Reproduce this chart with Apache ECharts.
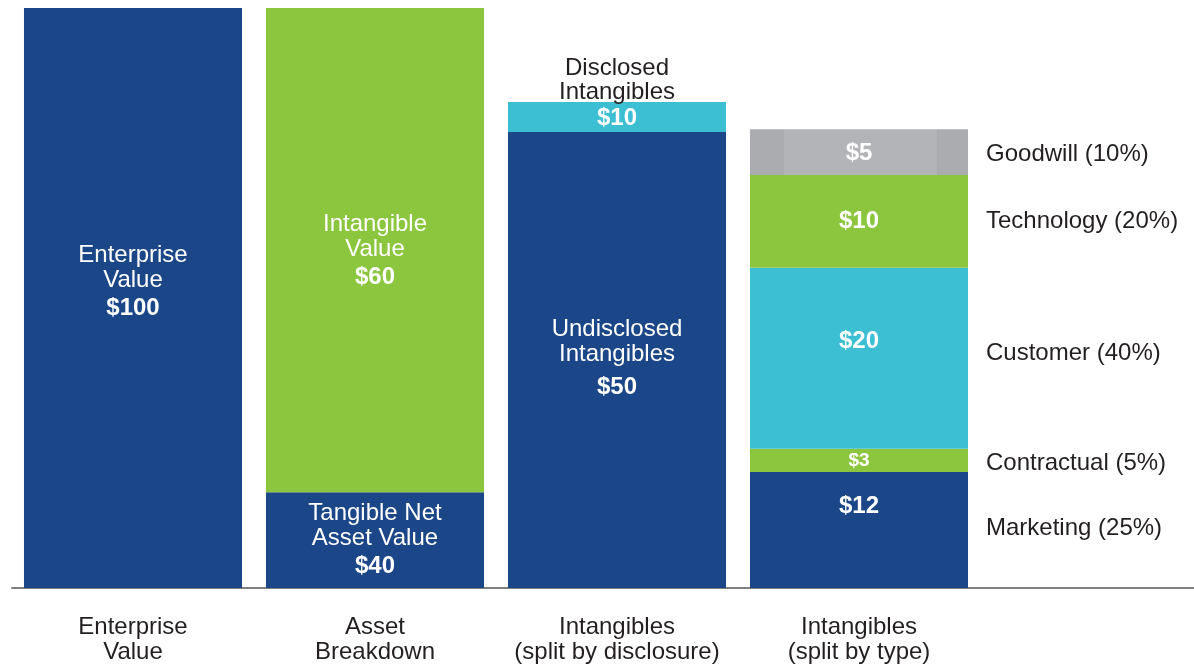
<!DOCTYPE html>
<html>
<head>
<meta charset="utf-8">
<script src="https://cdn.jsdelivr.net/npm/echarts@6/dist/echarts.min.js"></script>
<style>
  html, body { margin: 0; padding: 0; background: #fff; }
  #chart { width: 1194px; height: 666px; }
</style>
</head>
<body>
<div id="chart"></div>
<script>
// columns along the bottom
const categories = ['Enterprise\nValue', 'Asset\nBreakdown', 'Intangibles\n(split by disclosure)', 'Intangibles\n(split by type)'];

// one entry per stacked block, bottom to top within each column
const segNames = ['Enterprise Value', 'Tangible Net Asset Value', 'Intangible Value', 'Undisclosed Intangibles', 'Disclosed Intangibles',
    'Marketing', 'Contractual', 'Customer', 'Technology', 'Goodwill'];
const segColumn = [0, 1, 1, 2, 2, 3, 3, 3, 3, 3];
// drawn heights (the artwork is not to scale with the $ labels)
const segHeights = [100, 16.5, 83.5, 78.6, 5.2, 20, 4, 31.2, 16, 7.9];
const segAmounts = ['$100', '$40', '$60', '$50', '$10', '$12', '$3', '$20', '$10', '$5'];
const segCaptions = ['Enterprise\nValue', 'Tangible Net\nAsset Value', 'Intangible\nValue', 'Undisclosed\nIntangibles', '', '', '', '', '', ''];

// side notes
const disclosedNote = 'Disclosed\nIntangibles';
const typeShares = ['Marketing (25%)', 'Contractual (5%)', 'Customer (40%)', 'Technology (20%)', 'Goodwill (10%)'];

// styling
const NAVY = '#1b4688', GREEN = '#8cc63f', CYAN = '#3dbfd3';
const GREY = {
    type: 'linear', x: 0, y: 0, x2: 1, y2: 0,
    colorStops: [
        { offset: 0, color: '#abacb0' }, { offset: 0.157, color: '#abacb0' },
        { offset: 0.157, color: '#b3b4b8' }, { offset: 0.857, color: '#b3b4b8' },
        { offset: 0.857, color: '#abacb0' }, { offset: 1, color: '#abacb0' }
    ]
};
const segColors = [NAVY, NAVY, GREEN, NAVY, CYAN, NAVY, GREEN, CYAN, GREEN, GREY];
const labelOffsets = [[0, -15], [0, 1], [0, 2], [0, 2], [0, 1], [0, -24], [0, 0], [0, -17], [0, 0], [0, 1]];
const FONT = "'Liberation Sans', Arial, Helvetica, sans-serif";
const TEXT = '#231f20';
const FS = 24;

function columnData(col, v) {
    return categories.map((c, i) => (i === col ? v : '-'));
}

const series = [];

segNames.forEach((name, i) => {
    const cap = segCaptions[i];
    const amt = segAmounts[i];
    let fmt = cap ? cap.split('\n').map(l => '{c|' + l + '}').join('\n') + '\n' : '';
    fmt += (name === 'Contractual' ? '{s|' : (name === 'Undisclosed Intangibles' ? '{w|' : '{v|')) + amt + '}';
    series.push({
        name: name,
        type: 'bar',
        stack: 'main',
        barCategoryGap: '9.9%',
        data: columnData(segColumn[i], segHeights[i]),
        itemStyle: { color: segColors[i] },
        label: {
            show: true,
            position: 'inside',
            offset: labelOffsets[i],
            formatter: fmt,
            color: '#fff',
            fontFamily: FONT,
            rich: {
                c: { fontSize: FS, lineHeight: 25, color: '#fff', fontFamily: FONT },
                v: { fontSize: FS, lineHeight: 31, fontWeight: 'bold', color: '#fff', fontFamily: FONT },
                w: { fontSize: FS, lineHeight: 41, fontWeight: 'bold', color: '#fff', fontFamily: FONT },
                s: { fontSize: 19, lineHeight: 20, fontWeight: 'bold', color: '#fff', fontFamily: FONT }
            }
        },
        silent: true
    });
});

// invisible twin stack on a hidden axis, carries the outside notes
const noteOffsets = { 'Marketing': [0, -2], 'Contractual': [0, 3], 'Customer': [0, -5], 'Technology': [0, 0], 'Goodwill': [0, 2] };
segNames.forEach((name, i) => {
    const col = segColumn[i];
    if (col < 2) return;
    let label = { show: false };
    if (name === 'Disclosed Intangibles') {
        label = { show: true, position: 'top', distance: -2, formatter: disclosedNote, fontSize: FS, lineHeight: 24, color: TEXT, fontFamily: FONT };
    } else if (col === 3) {
        label = { show: true, position: 'right', distance: 18, offset: noteOffsets[name], formatter: typeShares[i - 5], fontSize: FS, color: TEXT, fontFamily: FONT };
    }
    series.push({
        name: name + ' note',
        type: 'bar',
        stack: 'note',
        xAxisIndex: 1,
        barCategoryGap: '9.9%',
        data: columnData(col, segHeights[i]),
        itemStyle: { color: 'rgba(0,0,0,0)' },
        label: label,
        silent: true
    });
});

// baseline rule that runs to the right edge
series.push({
    type: 'line',
    xAxisIndex: 2,
    yAxisIndex: 1,
    data: [],
    silent: true
});

const chart = echarts.init(document.getElementById('chart'));
chart.setOption({
    animation: false,
    backgroundColor: '#fff',
    grid: [
        { left: 12, right: 214, top: 8, bottom: 78 },
        { left: 12, right: 0, top: 8, bottom: 78 }
    ],
    xAxis: [
        {
            type: 'category', gridIndex: 0, data: categories,
            axisLine: { show: false }, axisTick: { show: false },
            axisLabel: { interval: 0, margin: 27, fontSize: FS, lineHeight: 25, color: TEXT, fontFamily: FONT }
        },
        { type: 'category', gridIndex: 0, data: categories, show: false },
        {
            type: 'value', gridIndex: 1, min: 0, max: 1,
            axisLine: { show: true, lineStyle: { color: '#808080', width: 2 } },
            axisTick: { show: false }, axisLabel: { show: false }, splitLine: { show: false }
        }
    ],
    yAxis: [
        { type: 'value', gridIndex: 0, min: 0, max: 100, show: false },
        { type: 'value', gridIndex: 1, min: 0, max: 1, show: false }
    ],
    series: series
});
</script>
</body>
</html>
